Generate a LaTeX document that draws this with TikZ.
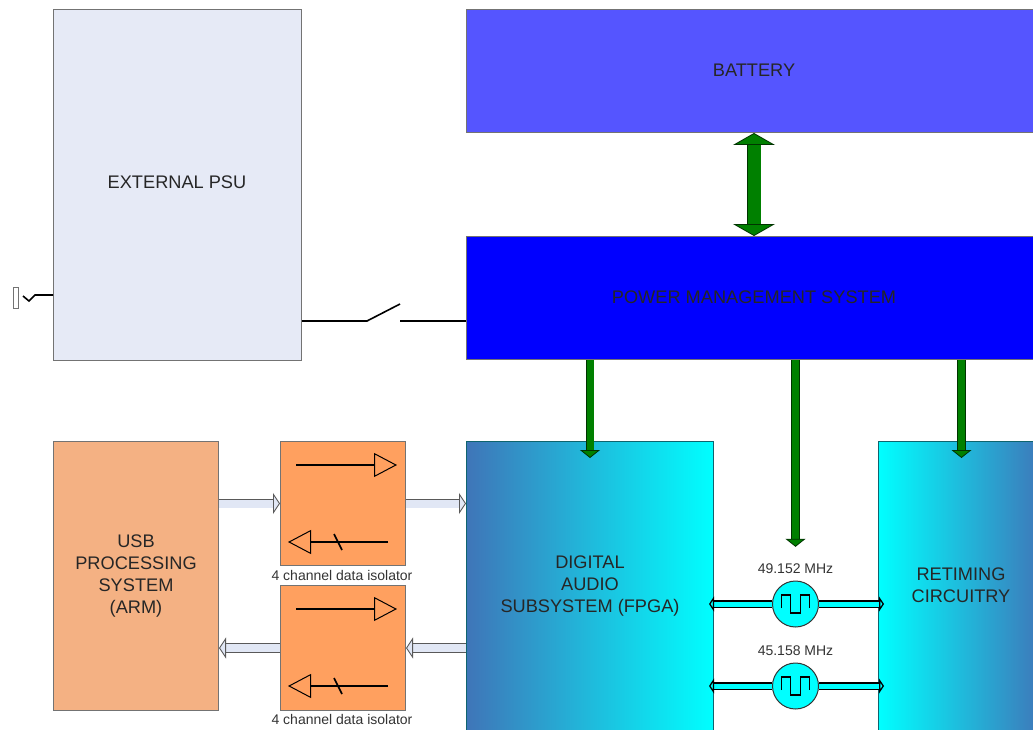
\documentclass[tikz,border=0pt]{standalone}
\usepackage{fontspec}
\setmainfont{Liberation Sans}
\usetikzlibrary{arrows.meta, calc}
\definecolor{psufill}{RGB}{230,234,246}
\definecolor{batfill}{RGB}{85,85,255}
\definecolor{pmsfill}{RGB}{0,0,255}
\definecolor{usbfill}{RGB}{244,177,131}
\definecolor{isofill}{RGB}{255,160,95}
\definecolor{dasblue}{RGB}{63,117,184}
\definecolor{dascyan}{RGB}{0,255,255}
\definecolor{powergreen}{RGB}{0,128,0}
\definecolor{databar}{RGB}{225,231,245}
\definecolor{tealedge}{RGB}{15,100,110}
\begin{document}
\begin{tikzpicture}[
	x=1pt, y=-1pt,
	blockfont/.style={font=\fontsize{18.2}{22}\selectfont, text=black!85},
	box/.style={rectangle, draw=black!55, line width=1pt, anchor=north west, align=center, inner sep=0pt, blockfont},
	caption/.style={font=\fontsize{14}{16}\selectfont, text=black!80, inner sep=0pt},
	power/.style={double=powergreen, draw=black!60!powergreen, line width=0.8pt, double distance=7pt, {-{Triangle[length=8pt, width=20pt, fill=powergreen]}}},
	mains/.style={double=powergreen, draw=black!60!powergreen, line width=0.8pt, double distance=13pt, {{Triangle[length=12pt, width=42pt, fill=powergreen]}-{Triangle[length=12pt, width=42pt, fill=powergreen]}}},
	databus/.style={double=databar, draw=black!65, line width=0.9pt, double distance=8pt, {-{Triangle[length=7pt, width=21pt, fill=databar]}}},
	clockbus/.style={double=dascyan, draw=black, line width=1.3pt, double distance=5pt, {-{Triangle[length=5pt, width=15pt, fill=dascyan]}}},
	wire/.style={black, line width=1.6pt},
	xtal/.style={circle, draw=black!80, line width=1pt, fill=dascyan, minimum size=46pt, inner sep=0pt}
	]
	\useasboundingbox (0,0) rectangle (1033,730);
	\clip (0,0) rectangle (1033,730);
	% Blocks
	\node[box, fill=psufill, minimum width=248pt, minimum height=351pt] (psu) at (53,9) {};
	\node[blockfont] (psulabel) at (177,182) {EXTERNAL PSU};
	\node[box, fill=batfill, minimum width=575pt, minimum height=123pt] (bat) at (466,9) {\raisebox{2pt}{BATTERY}};
	\node[box, fill=pmsfill, minimum width=575pt, minimum height=123pt] (pms) at (466,236) {\raisebox{2pt}{POWER MANAGEMENT SYSTEM}};
	\node[box, fill=usbfill, minimum width=165pt, minimum height=269pt] (usb) at (53,441) {USB\\PROCESSING\\SYSTEM\\(ARM)};
	\node[box, fill=isofill, minimum width=125pt, minimum height=124pt] (isoa) at (280,441) {};
	\node[box, fill=isofill, minimum width=125pt, minimum height=125pt] (isob) at (280,585) {};
	\node[box, draw=tealedge, left color=dasblue, right color=dascyan, minimum width=247pt, minimum height=310pt] (das) at (466,441) {};
	\node[blockfont, align=center] (daslabel) at (590,586.5) {DIGITAL\\AUDIO\\SUBSYSTEM (FPGA)};
	\node[box, draw=tealedge, left color=dascyan, right color=dasblue, minimum width=166pt, minimum height=310pt] (ret) at (878,441) {};
	\node[blockfont, align=center] (retlabel) at (961,585) {RETIMING\\CIRCUITRY};
	\node[caption] (isoacap) at (342,575) {4 channel data isolator};
	\node[caption] (isobcap) at (342,719) {4 channel data isolator};
	\node[xtal] (xtala) at (795.5,604) {};
	\node[xtal] (xtalb) at (795.5,686) {};
	\node[caption] (xtalacap) at (795.5,569) {49.152 MHz};
	\node[caption] (xtalbcap) at (795.5,651) {45.158 MHz};
	
	% Isolator symbols
	\foreach \iso in {isoa, isob} {
		\draw[wire, -{Triangle[open, length=23pt, width=24pt, fill=isofill, line width=1pt]}] ($(\iso.north west)+(16,24)$) -- ($(\iso.north west)+(117,24)$);
		\draw[wire, -{Triangle[open, length=23pt, width=24pt, fill=isofill, line width=1pt]}] ($(\iso.north west)+(108,101)$) -- ($(\iso.north west)+(8,101)$);
		\draw[wire] ($(\iso.north west)+(54,93)$) -- ($(\iso.north west)+(62,109)$);
	}
	
	% Crystal symbols
	\foreach \xt in {xtala, xtalb} {
		\draw[black, line width=1.6pt, shift={(\xt.center)}] (-14,4) -- (-14,-9) -- (-5,-9) -- (-5,9) -- (5,9) -- (5,-9) -- (14,-9) -- (14,4);
		\draw[clockbus] (\xt.west) -- ($(das.east |- \xt.west)+(-5,0)$);
		\draw[clockbus] (\xt.east) -- ($(ret.west |- \xt.east)+(6,0)$);
	}
	
	% Power rails
	\draw[mains] (bat.south) -- (pms.north);
	\draw[power] (pms.south -| das.north) -- ($(das.north)+(0,17)$);
	\draw[power] (pms.south -| xtala.north) -- ($(xtalacap.north)+(0,-17)$);
	\draw[power] (pms.south -| ret.north) -- ($(ret.north)+(0,17)$);
	
	% Data paths
	\draw[databus] (usb.east |- isoa.west) -- (isoa.west);
	\draw[databus] (isoa.east) -- (das.west |- isoa.east);
	\draw[databus] (das.west |- isob.east) -- (isob.east);
	\draw[databus] (isob.west) -- (usb.east |- isob.west);
	
	% Switch and mains plug
	\coordinate (swa) at (367,321);
	\coordinate (swb) at (400,321);
	\draw[wire] (psu.east |- swa) -- (swa) -- (400,304);
	\draw[wire] (swb) -- (pms.west |- swb);
	\node[draw=black!55, line width=0.8pt, fill=white, minimum width=5pt, minimum height=21pt, inner sep=0pt] (plug) at (15.5,297.5) {};
	\coordinate (plugend) at (23,296);
	\draw[wire] (plugend) -- (29,301) -- (35,295) -- (psu.west |- 0,295);
\end{tikzpicture}
\end{document}
